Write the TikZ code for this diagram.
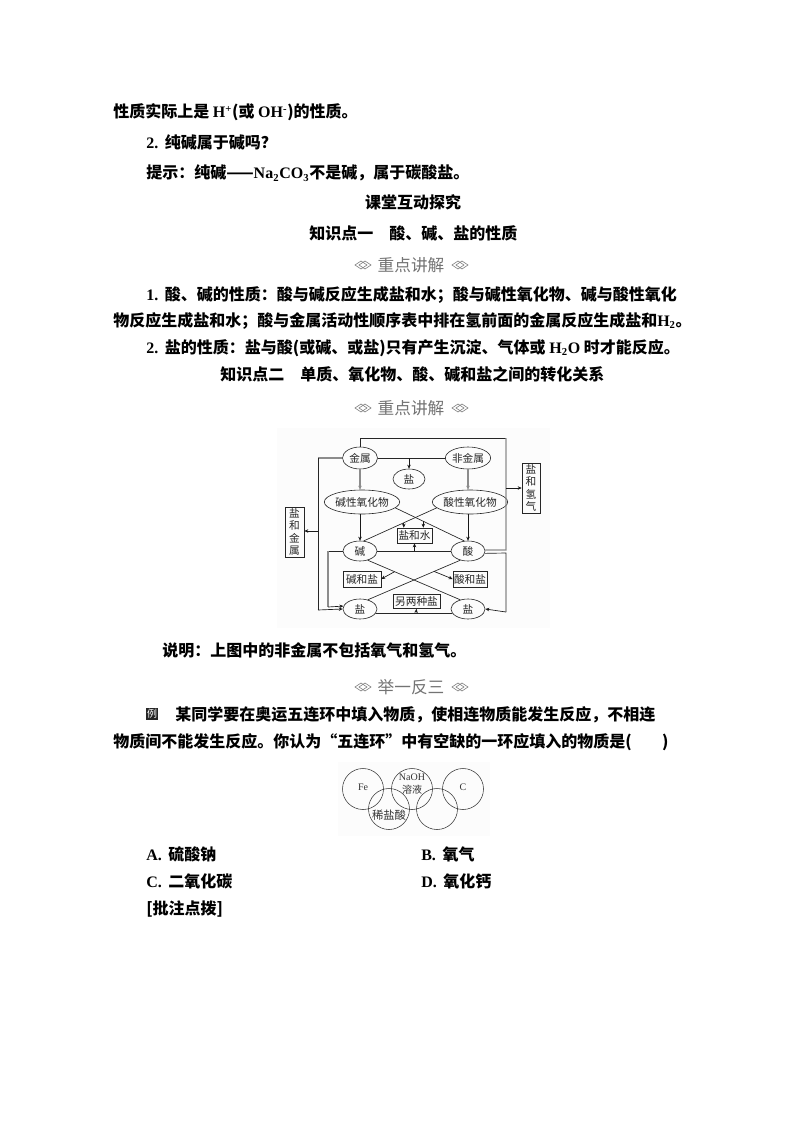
\documentclass[tikz,border=0pt]{standalone}
\usepackage{fontspec}
\setmainfont{Noto Sans CJK SC}
\newfontfamily\lat{Liberation Serif}
\usetikzlibrary{shapes.geometric,arrows.meta}
\newcommand\latn[1]{{\lat #1}}
\newcommand\nbr[1]{{\lat #1.}\hspace{5pt}}
\tikzset{
 txt/.style={anchor=base west,inner sep=0pt,font=\bfseries\fontsize{12}{14}\selectfont},
 ctr/.style={anchor=base,inner sep=0pt,font=\bfseries\fontsize{12}{14}\selectfont},
 hdr/.style={anchor=center,inner sep=0pt,text=black!55,font=\fontsize{12.5}{14}\selectfont},
 ell/.style={ellipse,draw=black!85,line width=.45pt,inner sep=0pt,minimum width=#1*.75pt,font=\fontsize{8}{9}\selectfont,text=black!85},
 ell/.default=34,
 bx/.style={rectangle,draw=black!85,line width=.45pt,inner sep=0pt,font=\fontsize{8}{9.2}\selectfont,text=black!85,align=center},
 ring/.style={circle,draw=black!80,line width=.4pt,minimum size=30.75pt,inner sep=0pt,font=\fontsize{7.5}{8}\selectfont,text=black!80},
 ln/.style={line width=.5pt,draw=black!85},
 gl/.style={line width=.9pt,draw=black!45},
 ar/.style={-{Stealth[length=3pt,width=2.6pt]},black!90},
 orn/.pic={\draw[black!50,line width=.5pt] (-7,0)--(-1,-4)--(5,0)--(-1,4)--cycle;
           \draw[black!50,line width=.5pt] (-3,0)--(3,-4)--(9,0)--(3,4)--cycle;},
}
\begin{document}
\begin{tikzpicture}[x=.75pt,y=-.75pt]
\useasboundingbox[fill=white] (0,0) rectangle (794,1123);
\fill[black!1] (277,428) rectangle (550,628);
\fill[black!1] (338,762) rectangle (490,836);
% body text
\node[txt] (t1) at (113,118) {性质实际上是 \latn{H\textsuperscript{+}}(或 \latn{OH\textsuperscript{-}})的性质。};
\node[txt] (t2) at (146,149) {\nbr{2}纯碱属于碱吗？};
\node[txt] (t3) at (146,179) {提示：纯碱——\latn{Na\textsubscript{2}CO\textsubscript{3}}不是碱，属于碳酸盐。};
\node[ctr] (t4) at (413,209) {课堂互动探究};
\node[txt] (t5) at (309,239) {知识点一\hspace{1em}酸、碱、盐的性质};
\node[hdr] (h1) at (411,265) {重点讲解};
\pic at (362,265) {orn}; \pic at (459,265) {orn};
\node[txt] (t6) at (146,300) {\nbr{1}酸、碱的性质：酸与碱反应生成盐和水；酸与碱性氧化物、碱与酸性氧化};
\node[txt] (t7) at (113,326) {物反应生成盐和水；酸与金属活动性顺序表中排在氢前面的金属反应生成盐和\latn{H\textsubscript{2}}。};
\node[txt] (t8) at (146,353) {\nbr{2}盐的性质：盐与酸(或碱、或盐)只有产生沉淀、气体或 \latn{H\textsubscript{2}O} 时才能反应。};
\node[txt] (t9) at (220,380) {知识点二\hspace{1em}单质、氧化物、酸、碱和盐之间的转化关系};
\node[hdr] (h2) at (411,408) {重点讲解};
\pic at (362,408) {orn}; \pic at (459,408) {orn};
% diagram nodes
\node[ell=35,minimum height=16.5pt] (jinshu) at (360,458) {金属};
\node[ell=36,minimum height=16.5pt] (feijin) at (468,458) {非金属};
\node[ell=32,minimum height=15pt] (yan0) at (409,479) {盐};
\node[ell=60,minimum height=18pt] (bxo) at (362,502) {碱性氧化物};
\node[ell=60,minimum height=18pt] (sxo) at (470,502) {酸性氧化物};
\node[ell=34,minimum height=15pt] (jian) at (360,551) {碱};
\node[ell=34,minimum height=15pt] (suan) at (468,551) {酸};
\node[ell=34,minimum height=15pt] (yanl) at (360,609) {盐};
\node[ell=34,minimum height=15pt] (yanr) at (468,609) {盐};
\node[bx,minimum width=26.25pt,minimum height=11.25pt] (yhs) at (414.5,535.5) {盐和水};
\node[bx,minimum width=28.5pt,minimum height=12pt] (jhy) at (362,579) {碱和盐};
\node[bx,minimum width=25.5pt,minimum height=12pt] (shy) at (470,579) {酸和盐};
\node[bx,minimum width=35.25pt,minimum height=10.5pt] (lly) at (416.5,601.5) {另两种盐};
\node[bx,minimum width=13.5pt,minimum height=37.5pt] (yhq) at (531,488) {盐\\和\\氢\\气};
\node[bx,minimum width=14.25pt,minimum height=37.5pt] (yhj) at (294.5,532) {盐\\和\\金\\属};
% connectors
\draw[ln] (jinshu.east) -- (feijin.west);
\draw[ln,ar] (yan0.north |- jinshu.east) -- (yan0.north);
\draw[gl,-{Stealth[length=3pt,width=2.6pt]}] (jinshu.south) -- (jinshu.south |- bxo.north);
\draw[gl,-{Stealth[length=3pt,width=2.6pt]}] (feijin.south) -- (feijin.south |- sxo.north);
\draw[ln,ar] (jinshu.south |- bxo.south) -- (jian.north);
\draw[ln,ar] (suan.north |- sxo.south) -- (suan.north);
\draw[ln] (bxo.-10) -- (suan.110) coordinate[pos=.405] (b1);
\draw[ln] (sxo.190) -- (jian.70) coordinate[pos=.45] (b2);
\draw[ln,ar] (b1) -- (b1 |- yhs.north);
\draw[ln,ar] (b2) -- (b2 |- yhs.north);
\draw[ln] (jian.east) -- (suan.west);
\draw[ln,ar] (yhs.south |- jian.east) -- (yhs.south);
\draw[ln] (jian.-50) -- (yanr.130) coordinate[pos=.29] (c1);
\draw[ln] (suan.230) -- (yanl.50) coordinate[pos=.283] (c2);
\draw[ln,ar] (c1) -- (jhy.east);
\draw[ln,ar] (c2) -- (shy.west);
\draw[ln] (yanl.-15) -- (yanr.195);
\coordinate (d1) at (416,613);
\draw[ln,ar] (d1) -- (lly.south);
% outer routes
\coordinate (tr1) at (506,438);
\coordinate (tr2) at (506,488);
\coordinate (tl1) at (318,458);
\coordinate (tl2) at (318,531);
\coordinate (tl3) at (318,610);
\coordinate (jl) at (328,551);
\draw[line width=.5pt,black!85] (jinshu.north) -- (jinshu.north |- tr1) -- (tr1);
\draw[gl] (tr1) -- (506,550) -- (suan.3);
\draw[ln,ar] (tr2) -- (yhq.west |- tr2);
\draw[ln] (suan.-8) -- (506,553) -- (506,612);
\draw[ln,ar] (506,612) -- (yanr.east);
\draw[gl] (jinshu.west) -- (tl1);
\draw[ln] (tl1) -- (tl3);
\draw[ln,ar] (tl3) -- (yanl.west);
\draw[ln,ar] (tl2) -- (yhj.east |- tl2);
\draw[ln] (jian.west) -- (jl);
\draw[gl] (jl) -- (328,607);
\draw[ln,ar] (328,607) -- (yanl.170);
% text under diagram
\node[txt] (t10) at (162,656) {说明：上图中的非金属不包括氧气和氢气。};
\node[hdr] (h3) at (411,687) {举一反三};
\pic at (362,687) {orn}; \pic at (459,687) {orn};
\node[fill=black!85,text=white,inner sep=0pt,minimum size=9.5pt,font=\fontsize{7.5}{8}\selectfont] (li) at (152,714) {例};
\node[txt] (t11) at (175,720) {某同学要在奥运五连环中填入物质，使相连物质能发生反应，不相连};
\node[txt] (t12) at (113,747) {物质间不能发生反应。你认为“五连环”中有空缺的一环应填入的物质是(\hspace{1.9em})};
% rings
\node[ring,text height=5pt,text depth=3pt] (r1) at (363,789) {\latn{Fe}};
\node[ring] (r2) at (412,789) {\shortstack{\latn{NaOH}\\溶液\rule[-8pt]{0pt}{8pt}}};
\node[ring,text height=5pt,text depth=3pt] (r3) at (463,789) {\latn{C}};
\node[ring,font=\fontsize{8.5}{9}\selectfont,text height=15pt,text depth=0pt] (r4) at (389,809) {稀盐酸};
\node[ring] (r5) at (437,809) {};
% options
\node[txt] (a) at (146,860) {\nbr{A}硫酸钠};
\node[txt] (b) at (421,860) {\nbr{B}氧气};
\node[txt] (c) at (146,887) {\nbr{C}二氧化碳};
\node[txt] (d) at (421,887) {\nbr{D}氧化钙};
\node[txt] (e) at (146,914) {[批注点拨]};
\end{tikzpicture}
\end{document}
